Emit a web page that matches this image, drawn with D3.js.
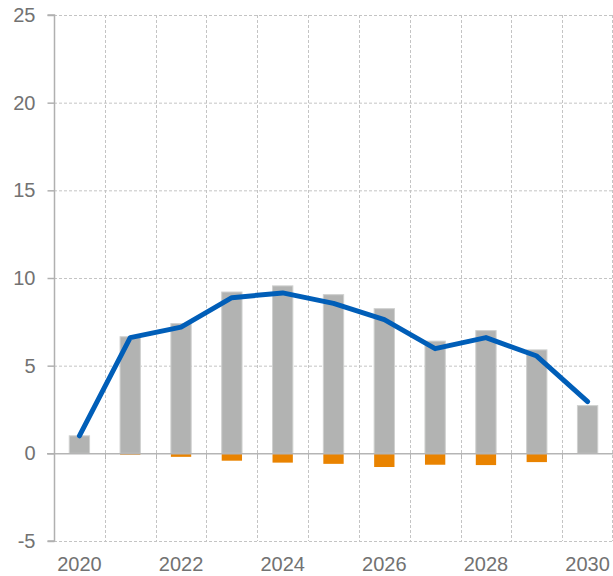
<!DOCTYPE html>
<html>
<head>
<meta charset="utf-8">
<script src="https://cdn.jsdelivr.net/npm/d3@7"></script>
<style>
  body { margin: 0; background: #fff; }
  svg { display: block; font-family: "Liberation Sans", Arial, sans-serif; }
</style>
</head>
<body>
<svg id="chart" width="613" height="576"></svg>
<script>
// data
const years = [2020, 2021, 2022, 2023, 2024, 2025, 2026, 2027, 2028, 2029, 2030];
const positive = [1.0, 6.65, 7.4, 9.2, 9.55, 9.05, 8.25, 6.4, 7.0, 5.9, 2.72];
const negative = [0, -0.08, -0.2, -0.42, -0.53, -0.6, -0.78, -0.65, -0.67, -0.5, -0.02];
const total = [1.0, 6.6, 7.2, 8.88, 9.15, 8.55, 7.63, 5.97, 6.6, 5.55, 2.95];
const yTicks = [-5, 0, 5, 10, 15, 20, 25];
const xLabels = [2020, 2022, 2024, 2026, 2028, 2030];

const svg = d3.select('#chart');
const mLeft = 54, mRight = 613, mTop = 15, mBottom = 541;

const x = d3.scaleBand().domain(years).range([mLeft, mRight]).paddingInner(0).paddingOuter(0);
const y = d3.scaleLinear().domain([-5, 25]).range([mBottom, mTop]);
const barW = x.bandwidth() * 0.4;

const grid = svg.append('g');

// horizontal dashed grid
grid.selectAll('line.h')
  .data(yTicks.filter(d => d !== 0))
  .join('line')
  .attr('x1', mLeft).attr('x2', mRight)
  .attr('y1', d => y(d) + 0.5).attr('y2', d => y(d) + 0.5)
  .attr('stroke', '#c4c4c4').attr('stroke-dasharray', '3,2');

// vertical dashed grid at band edges
grid.selectAll('line.v')
  .data(years.slice(1).map(d => x(d)).concat([mRight - 1]))
  .join('line')
  .attr('x1', d => Math.round(d) + 0.5).attr('x2', d => Math.round(d) + 0.5)
  .attr('y1', mTop).attr('y2', mBottom)
  .attr('stroke', '#c4c4c4').attr('stroke-dasharray', '3,2');

// bars
svg.append('g').selectAll('rect')
  .data(years.map((yr, i) => ({ yr, v: positive[i] })))
  .join('rect')
  .attr('x', d => x(d.yr) + (x.bandwidth() - barW) / 2)
  .attr('width', barW)
  .attr('y', d => y(d.v))
  .attr('height', d => y(0) - y(d.v))
  .attr('fill', '#b2b3b2')
  .attr('stroke', '#cfd0cf').attr('stroke-width', 1);

svg.append('g').selectAll('rect')
  .data(years.map((yr, i) => ({ yr, v: negative[i] })))
  .join('rect')
  .attr('x', d => x(d.yr) + (x.bandwidth() - barW) / 2)
  .attr('width', barW)
  .attr('y', y(0))
  .attr('height', d => y(d.v) - y(0))
  .attr('fill', '#e98300');

// zero line
svg.append('line')
  .attr('x1', mLeft - 7).attr('x2', mRight)
  .attr('y1', y(0) + 0.5).attr('y2', y(0) + 0.5)
  .attr('stroke', '#b5b5b5').attr('stroke-width', 1.5);

// small ticks under zero line
svg.append('g').selectAll('line')
  .data(years.slice(1))
  .join('line')
  .attr('x1', d => Math.round(x(d)) + 0.5).attr('x2', d => Math.round(x(d)) + 0.5)
  .attr('y1', y(0)).attr('y2', y(0) + 6)
  .attr('stroke', '#b5b5b5');

// y axis
const yAxis = svg.append('g')
  .attr('transform', `translate(${mLeft + 0.5},0)`)
  .call(d3.axisLeft(y).tickValues(yTicks).tickSize(7).tickPadding(12).tickFormat(d => String(d)));
yAxis.select('.domain').attr('stroke', '#b0b0b0').attr('stroke-width', 1.5).attr('d', `M-7,${mTop}H0V${mBottom}H-7`);
yAxis.selectAll('.tick line').attr('stroke', '#b0b0b0').attr('stroke-width', 1.5);
yAxis.selectAll('.tick text').attr('fill', '#727272').attr('font-size', 20).attr('font-family', '"Liberation Sans", Arial, sans-serif');

// x labels
svg.append('g').selectAll('text')
  .data(xLabels)
  .join('text')
  .attr('x', d => x(d) + x.bandwidth() / 2)
  .attr('y', 571)
  .attr('text-anchor', 'middle')
  .attr('fill', '#727272')
  .attr('font-size', 20)
  .text(d => d);

// line
const line = d3.line()
  .x((d, i) => x(years[i]) + x.bandwidth() / 2)
  .y(d => y(d));

svg.append('path')
  .datum(total)
  .attr('d', line)
  .attr('fill', 'none')
  .attr('stroke', '#005eb8')
  .attr('stroke-width', 5)
  .attr('stroke-linecap', 'round')
  .attr('stroke-linejoin', 'round');
</script>
</body>
</html>
